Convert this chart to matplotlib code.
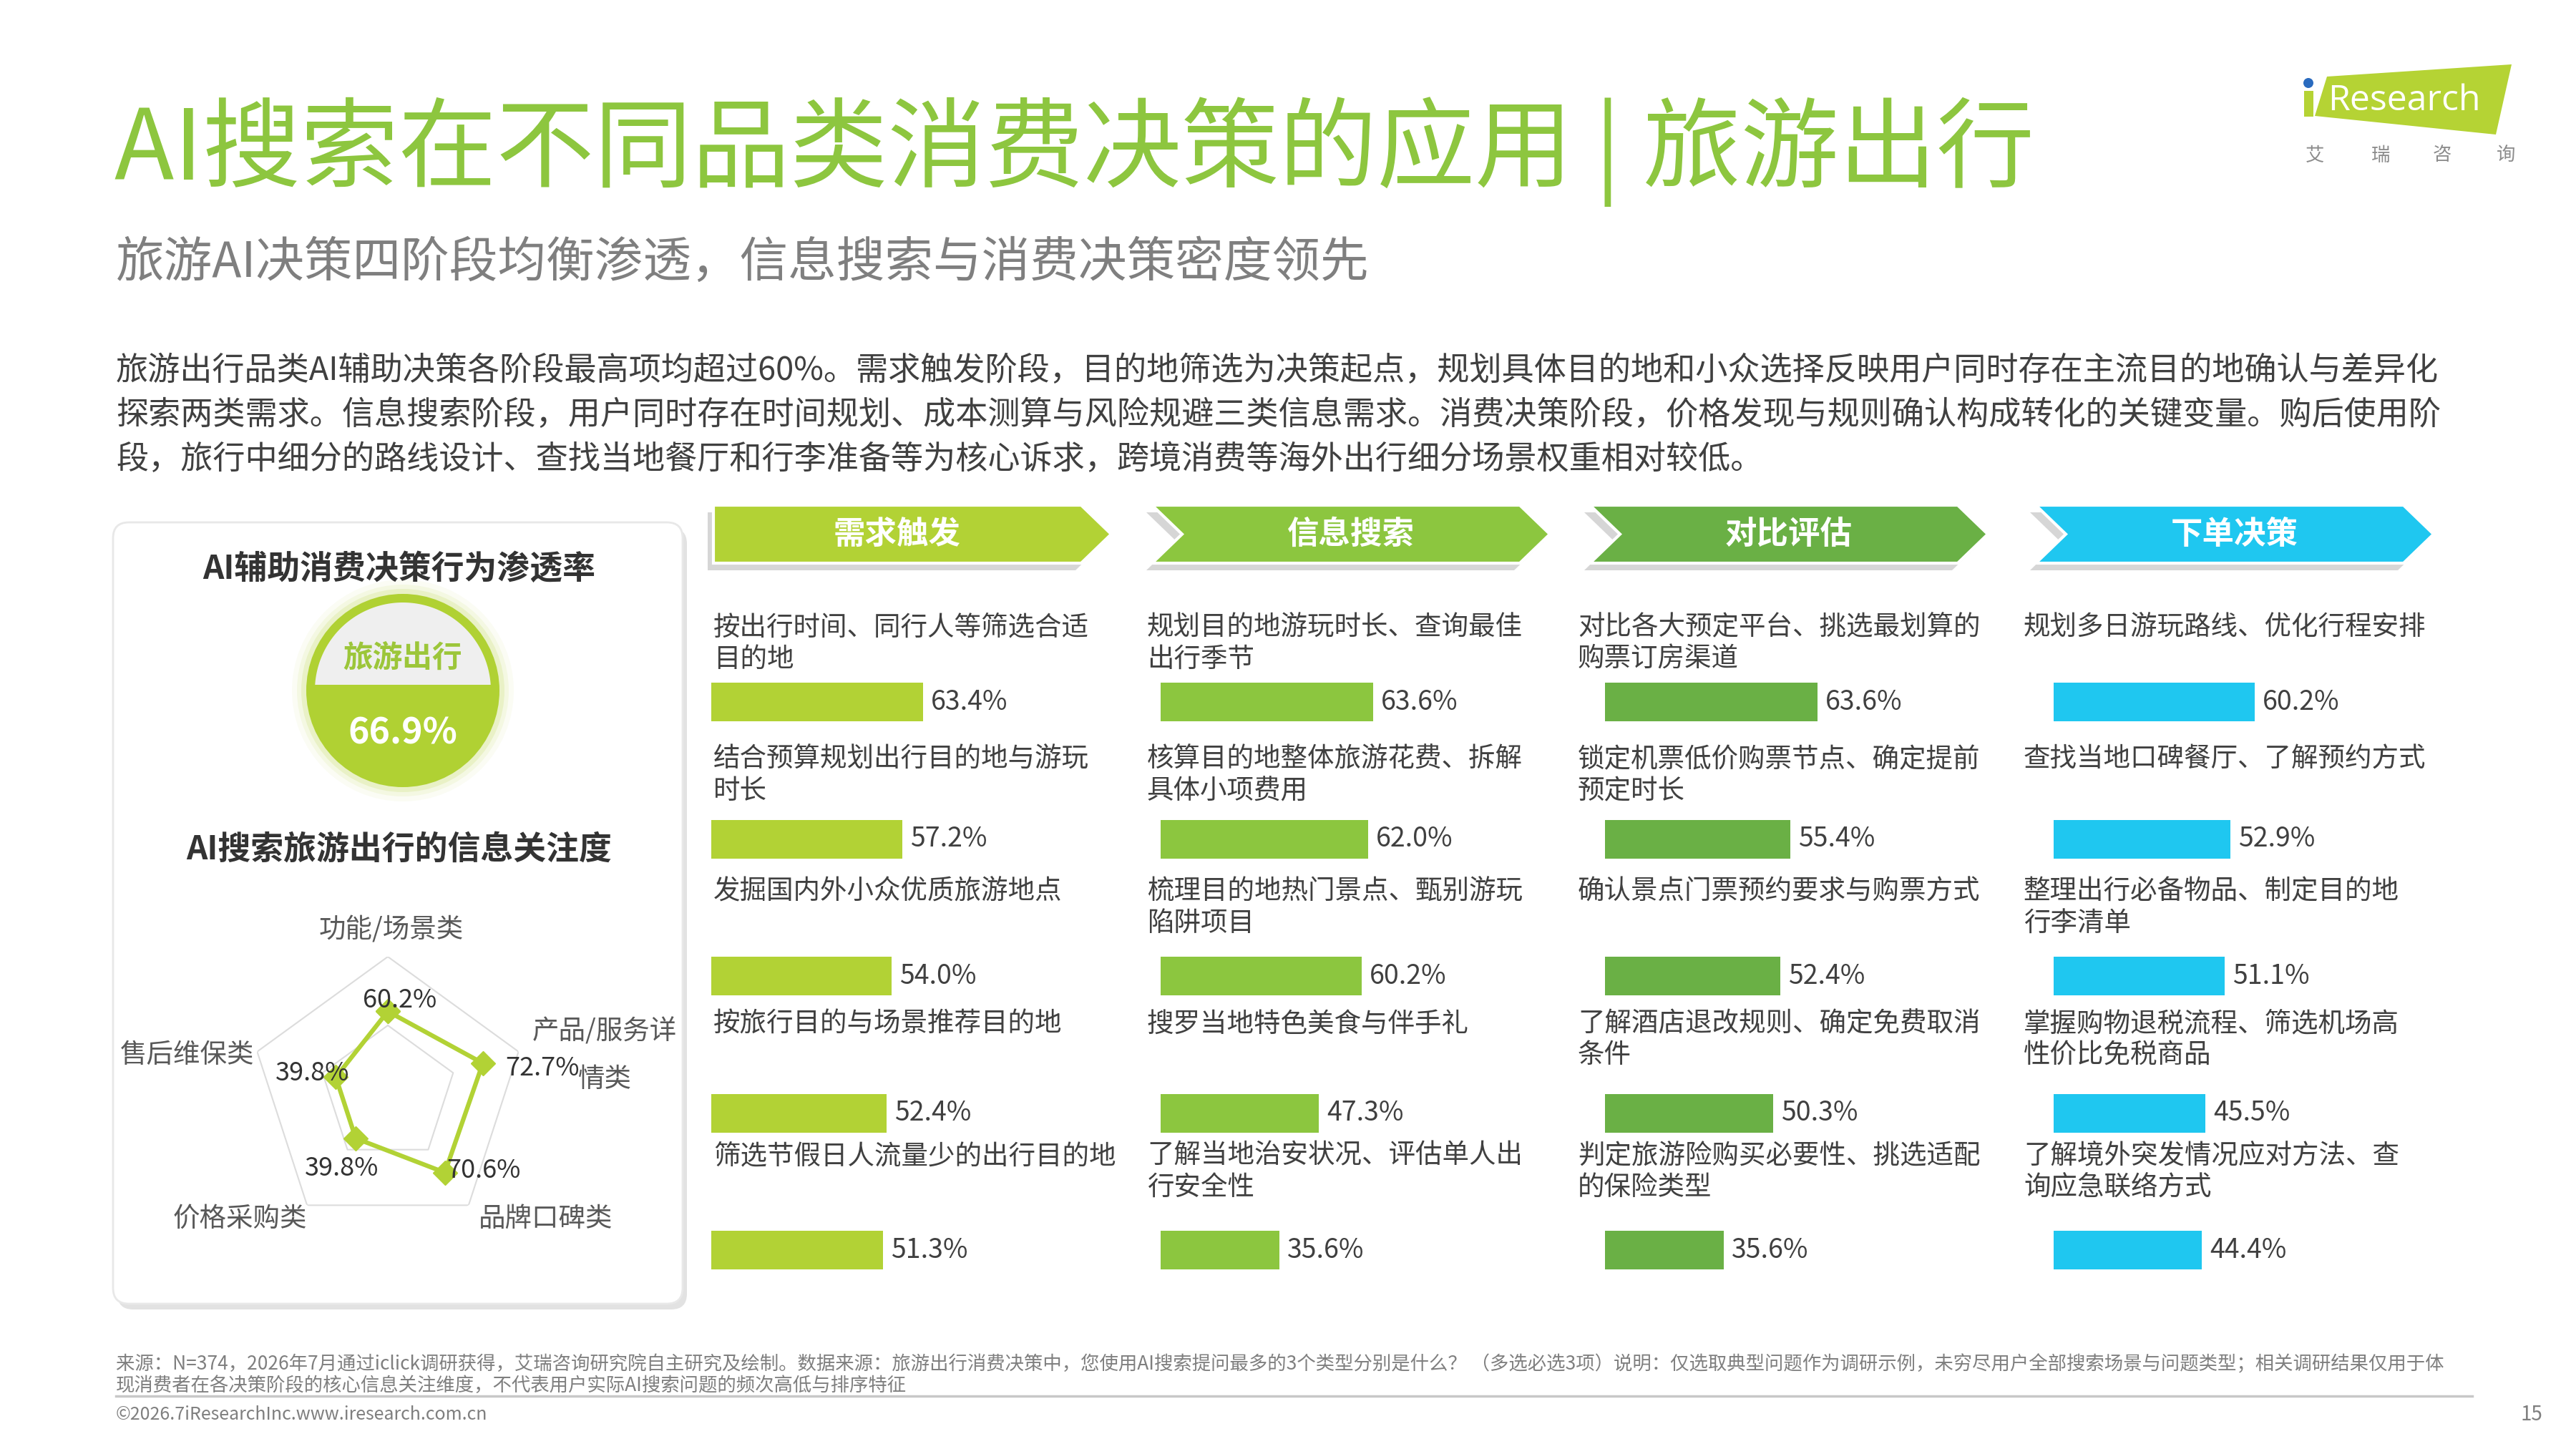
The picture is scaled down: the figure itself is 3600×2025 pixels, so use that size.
#!/usr/bin/env python3
"""AI搜索在不同品类消费决策的应用：旅游出行."""

import numpy as np
import matplotlib
matplotlib.use('Agg')
from matplotlib import pyplot as plt
from matplotlib.patches import Polygon, Circle, FancyBboxPatch, Rectangle

plt.rcParams['font.family'] = ['Noto Sans CJK SC', 'DejaVu Sans']

W, H = 3600, 2025

TITLE = 'AI搜索在不同品类消费决策的应用 | 旅游出行'
SUBTITLE = '旅游AI决策四阶段均衡渗透，信息搜索与消费决策密度领先'
BODY = [
    '旅游出行品类AI辅助决策各阶段最高项均超过60%。需求触发阶段，目的地筛选为决策起点，规划具体目的地和小众选择反映用户同时存在主流目的地确认与差异化',
    '探索两类需求。信息搜索阶段，用户同时存在时间规划、成本测算与风险规避三类信息需求。消费决策阶段，价格发现与规则确认构成转化的关键变量。购后使用阶',
    '段，旅行中细分的路线设计、查找当地餐厅和行李准备等为核心诉求，跨境消费等海外出行细分场景权重相对较低。',
]
FOOTER = [
    '来源：N=374，2026年7月通过iclick调研获得，艾瑞咨询研究院自主研究及绘制。数据来源：旅游出行消费决策中，您使用AI搜索提问最多的3个类型分别是什么？ （多选必选3项）说明：仅选取典型问题作为调研示例，未穷尽用户全部搜索场景与问题类型；相关调研结果仅用于体',
    '现消费者在各决策阶段的核心信息关注维度，不代表用户实际AI搜索问题的频次高低与排序特征',
]

PENETRATION_LABEL = '旅游出行'
PENETRATION = 66.9

RADAR_LABELS = ['功能/场景类', '产品/服务详\n情类', '品牌口碑类', '价格采购类', '售后维保类']
RADAR_VALUES = [60.2, 72.7, 70.6, 39.8, 39.8]

STAGES = ['需求触发', '信息搜索', '对比评估', '下单决策']

ITEMS_DEMAND = ['按出行时间、同行人等筛选合适\n目的地', '结合预算规划出行目的地与游玩\n时长',
                '发掘国内外小众优质旅游地点', '按旅行目的与场景推荐目的地',
                '筛选节假日人流量少的出行目的地']
VALUES_DEMAND = [63.4, 57.2, 54.0, 52.4, 51.3]

ITEMS_SEARCH = ['规划目的地游玩时长、查询最佳\n出行季节', '核算目的地整体旅游花费、拆解\n具体小项费用',
                '梳理目的地热门景点、甄别游玩\n陷阱项目', '搜罗当地特色美食与伴手礼',
                '了解当地治安状况、评估单人出\n行安全性']
VALUES_SEARCH = [63.6, 62.0, 60.2, 47.3, 35.6]

ITEMS_COMPARE = ['对比各大预定平台、挑选最划算的\n购票订房渠道', '锁定机票低价购票节点、确定提前\n预定时长',
                 '确认景点门票预约要求与购票方式', '了解酒店退改规则、确定免费取消\n条件',
                 '判定旅游险购买必要性、挑选适配\n的保险类型']
VALUES_COMPARE = [63.6, 55.4, 52.4, 50.3, 35.6]

ITEMS_ORDER = ['规划多日游玩路线、优化行程安排', '查找当地口碑餐厅、了解预约方式',
               '整理出行必备物品、制定目的地\n行李清单', '掌握购物退税流程、筛选机场高\n性价比免税商品',
               '了解境外突发情况应对方法、查\n询应急联络方式']
VALUES_ORDER = [60.2, 52.9, 51.1, 45.5, 44.4]

LIME = '#b2d235'
GREEN = '#8cc63f'
MID_GREEN = '#6ab045'
CYAN = '#1fc7f0'
STAGE_COLORS = [LIME, GREEN, MID_GREEN, CYAN]
TITLE_GREEN = '#8dc63f'
DARK = '#404040'
GRAY = '#7f7f7f'


def chevron(ax, x0, color, notch, text):
    top, bot = 706, 787
    mid = (top + bot) / 2
    w, d = 556, 42
    pts = [(x0, top), (x0 + w - d, top), (x0 + w, mid), (x0 + w - d, bot), (x0, bot)]
    if notch:
        pts.append((x0 + d, mid))
    pts = np.array(pts, dtype=float)
    ax.add_patch(Polygon(pts + [-8, 10], closed=True, color='#d6d6d6', lw=0, zorder=1))
    ax.add_patch(Polygon(pts, closed=True, facecolor=color, edgecolor='white', lw=3, zorder=2))
    cx = x0 + (w - d) / 2 + (d / 2 if notch else 0)
    ax.text(cx, mid, text, color='white', fontsize=32, fontweight='bold',
            ha='center', va='center', zorder=3)


def main():
    fig = plt.figure(figsize=(W / 100, H / 100), dpi=100)
    fig.patch.set_facecolor('white')
    ax = fig.add_axes([0, 0, 1, 1])
    ax.set_xlim(0, W)
    ax.set_ylim(H, 0)
    ax.axis('off')

    # Title block
    ax.text(160, 212, TITLE, color=TITLE_GREEN, fontsize=98.5, va='center', ha='left')
    ax.text(162, 368, SUBTITLE, color=GRAY, fontsize=48.7, va='center', ha='left')
    for i, line in enumerate(BODY):
        ax.text(162, 518 + 62 * i, line, color=DARK, fontsize=32.5, va='center', ha='left')

    # Logo
    ax.add_patch(Polygon([(3252, 107), (3510, 90), (3488, 188), (3235, 162)],
                         closed=True, color='#b5d334', lw=0))
    ax.add_patch(Rectangle((3220, 127), 13, 36, color='#b5d334', lw=0))
    ax.add_patch(Circle((3226, 116), 7, color='#2a6bbf', lw=0))
    ax.text(3253, 141, 'Research', color='white', fontsize=36, family='Open Sans',
            va='center', ha='left')
    for x, ch in zip([3235, 3327, 3413, 3502], '艾瑞咨询'):
        ax.text(x, 217, ch, color='#8c8c8c', fontsize=19, va='center', ha='center')

    # Left panel
    ax.add_patch(FancyBboxPatch((164, 738), 796, 1092, boxstyle='round,pad=0,rounding_size=22',
                                facecolor='#e2e2e2', edgecolor='none', zorder=0))
    ax.add_patch(FancyBboxPatch((158, 730), 796, 1092, boxstyle='round,pad=0,rounding_size=22',
                                facecolor='white', edgecolor='#e8e8e8', lw=2, zorder=0.5))
    ax.text(558, 796, 'AI辅助消费决策行为渗透率', color='#333333', fontsize=33,
            fontweight='bold', ha='center', va='center')
    ax.text(558, 1188, 'AI搜索旅游出行的信息关注度', color='#333333', fontsize=33,
            fontweight='bold', ha='center', va='center')

    ccx, ccy, cr = 563, 965, 135
    for k, a in [(20, 0.05), (13, 0.09), (7, 0.16)]:
        ax.add_patch(Circle((ccx, ccy), cr + k, color=LIME, alpha=a, lw=0, zorder=1))
    ax.add_patch(Circle((ccx, ccy), cr, color='#b0d133', lw=0, zorder=2))
    ri, chord = 123, 8
    t0 = np.arcsin(chord / ri)
    th = np.linspace(t0, np.pi - t0, 120)
    cap = np.column_stack([ccx + ri * np.cos(th), ccy - ri * np.sin(th)])
    ax.add_patch(Polygon(cap, closed=True, color='#efefef', lw=0, zorder=3))
    ax.text(ccx, 920, PENETRATION_LABEL, color='#9cc63a', fontsize=30, fontweight='bold',
            ha='center', va='center', zorder=4)
    ax.text(ccx, 1025, f'{PENETRATION:.1f}%', color='white', fontsize=36, fontweight='bold',
            ha='center', va='center', zorder=4)

    # Radar chart
    rcx, rcy, rr = 542, 1529, 192
    rax = fig.add_axes([(rcx - rr) / W, 1 - (rcy + rr) / H, 2 * rr / W, 2 * rr / H],
                       projection='polar')
    rax.set_theta_offset(np.pi / 2)
    rax.set_theta_direction(-1)
    rax.set_ylim(0, 100)
    rax.set_facecolor('none')
    rax.grid(False)
    rax.set_xticks([])
    rax.set_yticks([])
    rax.spines['polar'].set_visible(False)
    angles = np.arange(len(RADAR_VALUES)) * 2 * np.pi / len(RADAR_VALUES)
    closed_a = np.append(angles, angles[0])
    for ring in (50, 100):
        rax.plot(closed_a, [ring] * len(closed_a), color='#dcdcdc', lw=1.5)
    vals = np.append(RADAR_VALUES, RADAR_VALUES[0])
    rax.plot(closed_a, vals, color=LIME, lw=4.5, marker='D', ms=17,
             markerfacecolor=LIME, markeredgecolor=LIME, clip_on=False)
    offsets = [(17, 15), (83, -7), (54, 3), (-19, -42), (-33, 5)]
    for a, v, off in zip(angles, RADAR_VALUES, offsets):
        rax.annotate(f'{v:.1f}%', (a, v), xytext=off, textcoords='offset pixels',
                     ha='center', va='center', fontsize=26, color='#333333',
                     annotation_clip=False)
    label_pos = [(547, 1300, 'center'), (845, 1442, 'center'), (763, 1703, 'center'),
                 (335, 1703, 'center'), (262, 1474, 'center')]
    for (x, y, ha), lab in zip(label_pos, RADAR_LABELS):
        for j, part in enumerate(lab.split('\n')):
            ax.text(x, y + 66 * j, part, color='#595959', fontsize=27, ha=ha, va='center')

    # Stage columns
    columns = [(ITEMS_DEMAND, VALUES_DEMAND), (ITEMS_SEARCH, VALUES_SEARCH),
               (ITEMS_COMPARE, VALUES_COMPARE), (ITEMS_ORDER, VALUES_ORDER)]
    chevron_x = [997, 1610, 2222, 2845]
    bar_x = [994, 1622, 2243, 2870]
    label_x = [997, 1603, 2205, 2828]
    row_step, bar_top = 191.6, 981
    for c, (items, values) in enumerate(columns):
        chevron(ax, chevron_x[c], STAGE_COLORS[c], c > 0, STAGES[c])
        for i, item in enumerate(items):
            for j, part in enumerate(item.split('\n')):
                ax.text(label_x[c], 877 + 184.6 * i + 44 * j, part, color=DARK,
                        fontsize=27, ha='left', va='center')
        y_top = bar_top - 0.5 * row_step
        y_bot = bar_top + 4.5 * row_step
        bax = fig.add_axes([bar_x[c] / W, 1 - y_bot / H, 467 / W, (y_bot - y_top) / H])
        bax.set_xlim(0, 100)
        bax.set_ylim(4.5, -0.5)
        bax.axis('off')
        bax.barh(np.arange(len(values)), values, height=54 / row_step,
                 color=STAGE_COLORS[c], edgecolor='none')
        for i, v in enumerate(values):
            bax.text(v + 2.4, i, f'{v:.1f}%', color=DARK, fontsize=27,
                     ha='left', va='center', clip_on=False)

    # Footer
    for i, line in enumerate(FOOTER):
        ax.text(162, 1907 + 29 * i, line, color=GRAY, fontsize=19, ha='left', va='center')
    ax.plot([162, 3455], [1951, 1951], color='#c8c8c8', lw=2.5)
    ax.text(162, 1977, '©2026.7iResearchInc.www.iresearch.com.cn', color=GRAY,
            fontsize=18, ha='left', va='center')
    ax.text(3538, 1977, '15', color=GRAY, fontsize=20, ha='center', va='center')

    fig.savefig('out.png', dpi=100, facecolor='white')


if __name__ == '__main__':
    main()
